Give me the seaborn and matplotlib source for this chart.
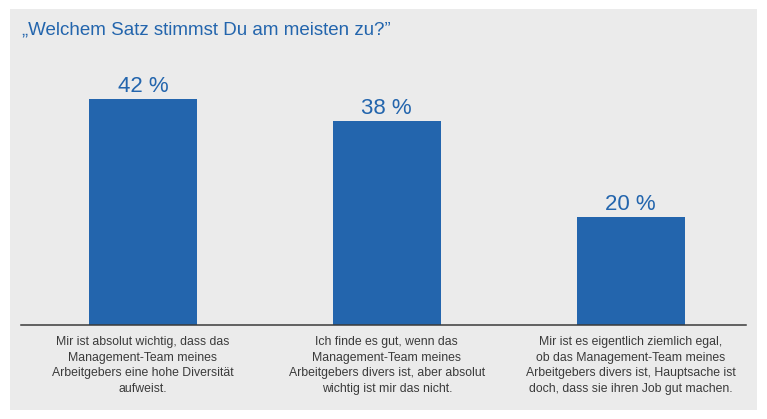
import matplotlib
matplotlib.use('Agg')
import matplotlib.pyplot as plt
from matplotlib.patches import Rectangle
import seaborn as sns

# Survey answers and shares (%)
answers = [
    'Mir ist absolut wichtig, dass das\nManagement-Team meines\nArbeitgebers eine hohe Diversität\naufweist.',
    'Ich finde es gut, wenn das\nManagement-Team meines\nArbeitgebers divers ist, aber absolut\nwichtig ist mir das nicht.',
    'Mir ist es eigentlich ziemlich egal,\nob das Management-Team meines\nArbeitgebers divers ist, Hauptsache ist\ndoch, dass sie ihren Job gut machen.',
]
shares = [42, 38, 20]
title = '„Welchem Satz stimmst Du am meisten zu?”'

blue = '#2365ad'
panel_grey = '#ebebeb'
text_grey = '#3a3a3a'

sns.set_style('white')
plt.rcParams['font.family'] = ['Liberation Sans', 'DejaVu Sans']

W, H = 767, 419
fig = plt.figure(figsize=(W / 100, H / 100), dpi=100)
fig.patch.set_facecolor('white')

# grey panel behind everything
fig.add_artist(Rectangle((10 / W, (H - 410) / H), 747 / W, 401 / H,
                         transform=fig.transFigure, facecolor=panel_grey,
                         edgecolor='none', zorder=0))

ax = fig.add_axes([21 / W, (H - 325) / H, 725 / W, 265 / H])
ax.set_facecolor('none')

sns.barplot(x=answers, y=shares, color=blue, width=0.443, saturation=1,
            linewidth=0, ax=ax)

ax.bar_label(ax.containers[0], labels=[f'{v} %' for v in shares], padding=1.5,
             fontsize=16, color=blue)

ax.set_xlim(-0.5, 2.473)
ax.set_ylim(0, 49.3)
ax.set_yticks([])
ax.set_ylabel('')
for s in ['left', 'right', 'top']:
    ax.spines[s].set_visible(False)
ax.spines['bottom'].set_color(text_grey)
ax.spines['bottom'].set_linewidth(1.1)
ax.tick_params(axis='x', length=0, pad=8)
for lbl in ax.get_xticklabels():
    lbl.set_family(['Liberation Sans', 'DejaVu Sans'])
    lbl.set_fontsize(8.8)
    lbl.set_color(text_grey)
    lbl.set_linespacing(1.4)

fig.text(22 / W, (H - 30) / H, title, fontsize=13.5, color=blue,
         ha='left', va='center')

fig.savefig('out.png', dpi=100)
